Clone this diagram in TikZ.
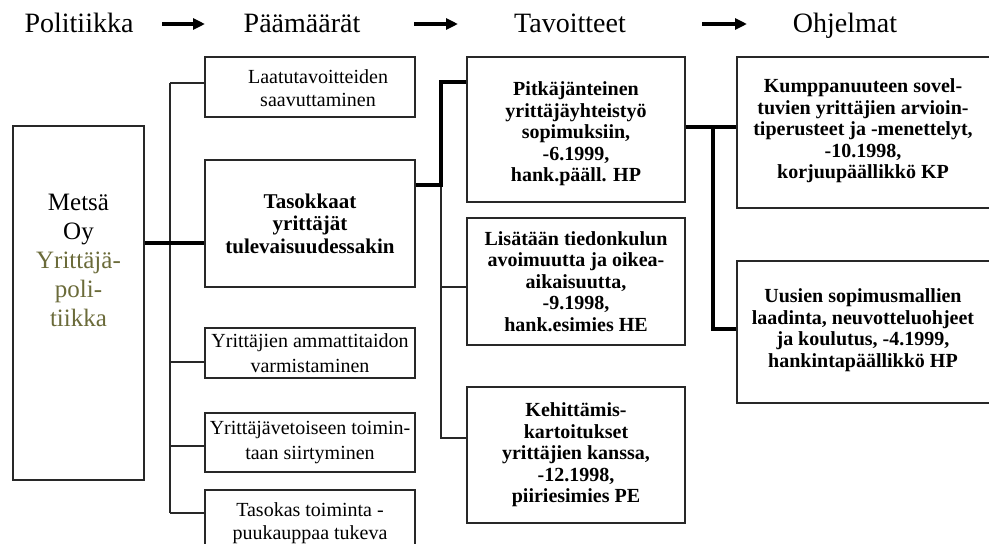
\documentclass[tikz,border=0pt]{standalone}
\usepackage{fontspec}
\setmainfont{Liberation Serif}
\usetikzlibrary{arrows.meta}
\definecolor{olivetext}{RGB}{107,107,58}
\definecolor{linegray}{RGB}{40,40,40}
\begin{document}
\begin{tikzpicture}[x=1pt,y=-1pt,
  box/.style={draw=linegray, line width=1.2pt, align=center, inner sep=0pt},
  reg/.style={font=\fontsize{20}{23}\selectfont},
  regw/.style={font=\fontsize{20}{25}\selectfont},
  bld/.style={font=\fontsize{20}{21.5}\selectfont\bfseries},
  bldl/.style={font=\fontsize{21}{22.5}\selectfont\bfseries},
  head/.style={font=\fontsize{28}{32}\selectfont, anchor=base},
  thinl/.style={draw=linegray, line width=1.2pt},
  thickl/.style={draw=black, line width=4pt},
  harrow/.style={draw=black, line width=3.2pt, -{Triangle[length=12pt,width=11pt]}}
]
\useasboundingbox (0,0) rectangle (989,544);

% headers
\node[head] (h1) at (79,32) {Politiikka};
\node[head] (h2) at (302,32) {Päämäärät};
\node[head] (h3) at (570,32) {Tavoitteet};
\node[head] (h4) at (845,32) {Ohjelmat};
\coordinate (a1s) at (162,24); \coordinate (a1e) at (205,24);
\coordinate (a2s) at (414,24); \coordinate (a2e) at (458,24);
\coordinate (a3s) at (702,24); \coordinate (a3e) at (747,24);
\draw[harrow] (a1s) -- (a1e);
\draw[harrow] (a2s) -- (a2e);
\draw[harrow] (a3s) -- (a3e);

% policy box
\node[box, minimum width=131pt, minimum height=354pt] (pol) at (78.5,303) {};
\node[font=\fontsize{25}{29}\selectfont, align=center] (polt) at (78.5,260)
  {Metsä\\Oy\\\textcolor{olivetext}{Yrittäjä-}\\\textcolor{olivetext}{poli-}\\\textcolor{olivetext}{tiikka}};

% goal boxes
\node[box, minimum width=210pt, minimum height=60pt] (g1) at (310,87) {};
\node[reg, align=center] (g1t) at (318,88) {Laatutavoitteiden\\saavuttaminen};
\node[box, bldl, minimum width=210pt, minimum height=127pt] (g2) at (310,223.5) {Tasokkaat\\yrittäjät\\tulevaisuudessakin};
\node[box, regw, minimum width=210pt, minimum height=50pt] (g3) at (310,353) {Yrittäjien ammattitaidon\\varmistaminen};
\node[box, regw, minimum width=210pt, minimum height=59pt] (g4) at (310,442.5) {Yrittäjävetoiseen toimin-\\taan siirtyminen};
\node[box, minimum width=210pt, minimum height=72pt] (g5) at (310,526) {};
\node[reg, align=center] (g5t) at (310,523) {Tasokas toiminta -\\puukauppaa tukeva};

% bus to goals
\coordinate (bt) at (170,83);
\coordinate (bb) at (170,513);
\draw[thinl] (bt) -- (bb);
\draw[thinl] (bt) -- (g1.west |- bt);
\draw[thinl] (170,362) -- (g3.west |- 0,362);
\draw[thinl] (170,446) -- (g4.west |- 0,446);
\draw[thinl] (bb) -- (g5.west |- bb);
\draw[thickl] (pol.east |- 0,243) -- (g2.west |- 0,243);

% target boxes
\node[box, minimum width=218pt, minimum height=145pt] (t1) at (576,129.5) {};
\node[bld, align=center] (t1t) at (576,134)
  {Pitkäjänteinen\\yrittäjäyhteistyö\\sopimuksiin,\\-6.1999,\\hank.pääll. HP};
\node[box, bld, minimum width=218pt, minimum height=127pt] (t2) at (576,281.5)
  {Lisätään tiedonkulun\\avoimuutta ja oikea-\\aikaisuutta,\\-9.1998,\\hank.esimies HE};
\node[box, bld, minimum width=218pt, minimum height=136pt] (t3) at (576,455)
  {Kehittämis-\\kartoitukset\\yrittäjien kanssa,\\-12.1998,\\piiriesimies PE};

\coordinate (tj) at (441,185);
\coordinate (tb) at (441,438);
\draw[thinl] (tj) -- (tb) -- (t3.west |- tb);
\draw[thinl] (441,287) -- (t2.west |- 0,287);
\draw[thickl] (g2.east |- tj) -- (tj) -- (441,82) -- (t1.west |- 0,82);

% programme boxes
\node[box, minimum width=258pt, minimum height=151pt] (o1) at (866,132.5) {};
\node[bld, align=center] (o1t) at (863,131)
  {Kumppanuuteen sovel-\\tuvien yrittäjien arvioin-\\tiperusteet ja -menettelyt,\\-10.1998,\\korjuupäällikkö KP};
\node[box, minimum width=258pt, minimum height=142pt] (o2) at (866,332) {};
\node[bld, align=center] (o2t) at (863,330)
  {Uusien sopimusmallien\\laadinta, neuvotteluohjeet\\ja koulutus, -4.1999,\\hankintapäällikkö HP};

\coordinate (oj) at (713,127);
\coordinate (ob) at (713,329);
\draw[thickl] (t1.east |- oj) -- (o1.west |- oj);
\draw[thickl] (oj) -- (ob) -- (o2.west |- ob);
\end{tikzpicture}
\end{document}
